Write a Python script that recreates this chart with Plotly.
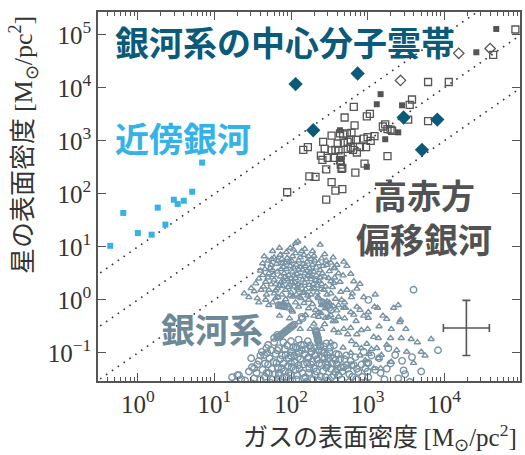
import plotly.graph_objects as go

# ---- data: log10 surface densities [Msun/pc^2] -----------------------------
# nearby galaxies
nearby_gas_log = [-0.36, -0.19, 0.00, 0.18, 0.26, 0.36, 0.47, 0.52, 0.60, 0.71, 0.84]
nearby_star_log = [1.02, 1.64, 1.26, 1.23, 1.74, 1.42, 1.89, 1.81, 1.87, 2.04, 2.59]

# Galactic central molecular zone
cmz_gas_log = [2.06, 2.87, 2.29, 3.47, 3.91, 3.71]
cmz_star_log = [4.07, 4.27, 3.20, 3.44, 3.40, 2.83]

# high-redshift galaxies (open squares)
hiz_open = [
    (2.82, 3.64), (2.70, 3.44), (2.99, 3.46), (3.03, 3.51), (2.83, 3.29), (3.20, 3.27),
    (3.23, 3.31), (3.26, 3.22), (3.32, 3.19), (2.53, 3.10), (2.64, 3.14), (2.68, 3.12),
    (2.73, 3.14), (2.79, 3.15), (2.95, 3.04), (3.00, 3.07), (3.09, 3.09), (3.04, 3.00),
    (2.42, 2.98), (2.85, 3.02), (2.61, 2.95), (2.69, 2.96), (2.74, 2.98), (2.78, 3.02),
    (2.16, 2.83), (2.22, 2.88), (2.44, 2.85), (2.53, 2.82), (2.58, 2.83), (2.62, 2.82),
    (2.74, 2.85), (2.78, 2.87), (2.81, 2.83), (2.86, 2.78), (2.90, 2.88), (2.98, 2.88),
    (2.39, 2.72), (2.48, 2.68), (2.56, 2.68), (2.65, 2.71), (2.64, 2.63), (2.41, 2.64),
    (3.26, 2.71), (2.46, 2.46), (2.66, 2.47), (2.65, 2.55), (2.96, 2.57), (2.24, 2.33),
    (2.32, 2.32), (2.84, 2.40), (2.67, 2.49), (2.53, 2.22), (2.58, 2.06), (2.67, 2.09),
    (2.46, 1.89), (1.95, 2.03), (3.30, 3.21), (3.58, 3.78), (3.55, 3.68), (3.53, 3.40),
    (3.79, 4.11), (4.06, 4.11), (3.79, 3.37), (4.93, 5.10), (4.64, 4.62),
]
# high-redshift galaxies (filled squares)
hiz_filled = [
    (3.17, 3.88), (3.12, 3.69), (2.64, 3.20), (3.23, 3.03), (3.45, 3.67), (3.40, 3.16),
    (4.68, 5.11), (4.42, 4.67), (2.65, 2.66), (2.99, 2.51),
]
# high-redshift galaxies (open diamonds)
hiz_diamond = [(3.43, 4.14), (4.19, 4.65), (4.60, 4.74)]

# Milky Way clouds (triangles)
mw_tri = [
    (2.06, 1.07), (2.09, 1.10), (2.38, 1.04), (1.75, 0.77), (1.86, 0.85), (1.95, 0.79),
    (2.06, 0.88), (2.17, 0.85), (2.23, 0.82), (2.30, 0.83), (1.63, 0.69), (1.74, 0.66),
    (1.81, 0.68), (1.89, 0.69), (1.98, 0.72), (2.10, 0.74), (2.21, 0.72), (2.36, 0.69),
    (2.47, 0.66), (2.56, 0.60), (1.63, 0.47), (1.71, 0.50), (1.82, 0.53), (1.91, 0.50),
    (2.02, 0.53), (2.10, 0.57), (2.21, 0.55), (2.30, 0.53), (2.41, 0.50), (1.54, 0.31),
    (1.67, 0.34), (1.78, 0.38), (1.87, 0.34), (1.95, 0.39), (2.06, 0.41), (2.15, 0.38),
    (2.26, 0.39), (2.36, 0.36), (2.49, 0.41), (1.52, 0.16), (1.61, 0.19), (1.71, 0.19),
    (1.82, 0.22), (1.93, 0.19), (2.04, 0.25), (2.10, 0.19), (2.19, 0.20), (2.30, 0.22),
    (2.43, 0.19), (2.52, 0.12), (1.39, 0.12), (1.45, 0.05), (1.56, 0.03), (1.67, 0.00),
    (1.80, 0.03), (1.93, 0.01), (2.02, 0.06), (2.13, 0.03), (2.23, 0.00), (2.36, 0.03),
    (2.47, -0.03), (1.71, -0.10), (1.84, -0.13), (1.97, -0.10), (2.10, -0.13), (2.23, -0.16),
    (2.32, -0.19), (2.45, -0.16), (2.02, -0.22), (2.19, -0.29), (2.36, -0.32), (2.52, -0.29),
    (1.78, 0.80), (1.83, 0.74), (1.90, 0.62), (1.94, 0.58), (1.99, 0.64), (2.03, 0.61),
    (2.07, 0.66), (2.12, 0.62), (2.16, 0.68), (2.19, 0.64), (2.24, 0.60), (2.28, 0.66),
    (2.33, 0.61), (1.76, 0.56), (1.86, 0.44), (1.92, 0.43), (1.97, 0.47), (2.00, 0.40),
    (2.04, 0.46), (2.08, 0.49), (2.12, 0.45), (2.18, 0.50), (2.22, 0.46), (2.26, 0.44),
    (2.33, 0.46), (2.38, 0.42), (1.70, 0.42), (1.74, 0.29), (1.80, 0.30), (1.85, 0.27),
    (1.89, 0.26), (1.98, 0.29), (2.01, 0.33), (2.09, 0.30), (2.13, 0.27), (2.18, 0.32),
    (2.24, 0.28), (2.29, 0.30), (2.34, 0.27), (2.40, 0.30), (2.45, 0.25), (2.52, 0.35),
    (2.57, 0.42), (2.62, 0.50), (1.66, 0.58), (1.70, 0.74), (1.94, 0.90), (2.02, 0.82),
    (2.12, 0.80), (2.26, 0.77), (2.40, 0.78), (2.46, 0.74), (2.52, 0.70), (2.00, 0.14),
    (2.07, 0.10), (2.16, 0.13), (2.26, 0.10), (2.34, 0.14), (1.88, 0.10), (1.78, 0.12),
    (2.69, 0.72), (2.73, 0.64), (2.57, 0.60), (2.78, 0.49), (2.86, 0.21), (2.73, 0.19),
    (2.56, 0.32), (2.65, 0.15), (2.79, 0.05), (3.40, -0.10), (3.34, -0.15), (3.09, -0.13),
    (2.86, -0.13), (2.71, -0.15), (2.62, -0.10), (2.39, -0.25), (2.49, -0.32), (2.62, -0.32),
    (2.69, -0.15), (2.78, -0.23), (2.90, -0.19), (3.01, -0.23), (3.13, -0.15), (3.25, -0.36),
    (3.42, -0.42), (3.01, -0.34), (2.44, -0.46), (2.56, -0.57), (2.69, -0.55), (2.78, -0.53),
    (2.92, -0.57), (2.79, -0.78), (2.52, -0.80), (3.08, -0.70), (3.14, -0.72), (3.30, -0.72),
    (3.31, -0.55), (3.44, -0.72), (3.57, -0.74), (3.83, -0.74), (2.99, -0.83), (2.92, -0.91),
    (3.05, -0.93), (3.12, -0.91), (3.18, -1.04), (3.14, -1.10), (3.31, -1.17), (3.51, -0.98),
    (3.70, -0.98), (3.60, -1.19), (3.08, -1.29), (3.17, -1.29), (2.97, -1.14), (3.43, -0.38),
    (2.01, -0.19), (2.19, -0.29), (2.36, -0.23), (2.45, -0.34), (2.10, -0.42), (2.30, -0.45),
    (2.60, -0.20), (2.50, -0.05), (2.66, 0.00), (2.58, -0.40), (2.85, -0.40), (2.95, -0.30),
    (2.74, -0.65), (2.62, -0.62), (2.85, -0.85),
    (1.58, 0.40), (1.64, 0.25), (1.68, 0.10), (1.73, 0.60), (1.77, 0.47), (1.80, 0.18),
    (1.83, 0.05), (1.87, 0.58), (1.88, 0.77), (1.91, 0.35), (1.93, 0.70), (1.96, 0.24),
    (1.99, 0.08), (2.01, 0.73), (2.03, 0.95), (2.05, 0.33), (2.08, 0.22), (2.11, 0.06),
    (2.14, 0.92), (2.15, 0.57), (2.17, 0.15), (2.20, 0.39), (2.22, 0.08), (2.25, 0.52),
    (2.27, 0.20), (2.31, 0.74), (2.32, 0.37), (2.35, 0.06), (2.38, 0.56), (2.39, 0.20),
    (2.42, 0.64), (2.44, 0.44), (2.47, 0.10), (2.50, 0.54), (2.54, 0.24), (2.58, 0.02),
    (2.60, 0.66), (2.64, 0.34), (2.68, 0.46), (1.60, 0.55), (1.65, 0.82), (1.76, 0.92),
    (1.85, 0.98), (1.99, 0.98), (2.18, 0.96), (2.28, 0.92), (2.44, 0.86), (2.55, 0.80),
    (1.48, 0.22), (1.58, -0.05), (1.76, -0.05), (1.90, -0.06), (2.06, -0.05), (2.17, -0.06),
    (2.28, -0.08), (2.40, -0.10), (2.55, -0.12), (2.70, -0.05), (2.80, 0.12), (2.90, 0.30),
    (2.82, 0.35), (2.95, 0.05), (3.10, 0.10), (3.20, -0.30), (3.15, -0.50), (3.00, -0.55),
    (2.86, -0.65), (3.25, -0.85), (3.38, -0.95), (3.50, -0.55), (3.65, -0.80), (3.75, -1.05),
    (2.68, -0.90), (2.78, -1.00), (2.90, -1.05), (3.02, -1.02), (2.55, -0.40), (2.40, -0.55),
    (2.25, -0.55), (2.12, -0.55), (1.98, -0.35), (1.85, -0.30), (2.30, -0.30), (2.70, -0.35),
    (2.82, -0.28),
]

# Milky Way clouds (circles)
mw_circ = [
    (1.32, -1.42), (1.48, -1.10), (1.49, -1.27), (1.68, -0.91), (1.78, -0.72), (1.82, -0.66),
    (2.06, -0.89), (2.10, -1.00), (2.23, -1.08), (2.30, -0.91), (2.43, -1.00), (2.58, -1.14),
    (2.69, -1.27), (2.79, -1.23), (2.45, -1.19), (2.01, -1.27), (1.84, -1.38), (1.68, -1.38),
    (3.01, 0.00), (3.60, 0.19), (3.27, -0.91), (3.36, -1.04), (3.47, -1.33), (3.17, -1.38),
    (3.92, -0.95), (2.99, -1.19), (2.84, -1.08), (3.58, -1.08), (3.01, -1.19), (2.97, -1.29),
    (2.88, -1.36), (2.82, -1.23), (2.73, -1.23), (2.65, -1.27), (2.48, -1.23), (2.58, -1.36),
    (2.62, -1.42), (2.53, -1.46), (3.49, -1.40), (3.01, -1.46), (1.52, -1.29), (1.65, -1.04),
    (1.78, -0.80), (1.82, -0.70), (1.84, -0.91), (1.93, -1.04), (2.01, -0.98), (2.08, -0.91),
    (2.17, -0.85), (2.26, -0.91), (2.32, -1.04), (2.40, -0.95), (2.47, -1.04), (1.81, -1.19),
    (1.88, -1.29), (2.00, -1.19), (2.10, -1.23), (2.21, -1.19), (2.30, -1.29), (2.40, -1.23),
    (1.71, -1.38), (1.84, -1.42), (1.97, -1.38), (2.08, -1.42), (2.19, -1.46), (2.32, -1.42),
    (2.45, -1.46), (1.23, -1.46), (1.30, -1.42), (1.60, -1.50), (1.66, -1.20), (1.72, -1.10),
    (1.75, -1.30), (1.76, -1.50), (1.80, -1.02), (1.86, -1.12), (1.89, -1.48), (1.92, -1.34),
    (1.95, -0.86), (1.97, -1.10), (2.02, -1.52), (2.04, -1.05), (2.06, -1.32), (2.12, -1.12),
    (2.14, -0.95), (2.15, -1.38), (2.18, -1.02), (2.20, -1.55), (2.24, -1.30), (2.27, -0.98),
    (2.28, -1.16), (2.34, -1.12), (2.36, -1.52), (2.38, -0.88), (2.42, -1.34), (2.44, -1.10),
    (2.50, -0.98), (2.52, -1.30), (2.55, -1.10), (2.60, -1.22), (2.62, -1.03), (2.66, -1.50),
    (2.70, -1.12), (1.55, -1.38), (1.58, -1.15), (1.62, -0.98), (1.70, -0.85), (1.74, -0.95),
    (1.90, -0.80), (2.00, -0.78), (2.10, -0.75), (2.22, -0.78), (2.35, -0.74), (2.46, -0.82),
    (2.56, -0.86), (2.76, -1.40), (2.85, -1.50), (2.92, -1.22), (3.10, -1.32), (3.22, -1.50),
    (3.40, -1.48), (3.30, -1.20), (2.95, -0.98), (3.05, -1.05),
    (1.40, -1.52), (1.45, -1.35), (1.52, -1.48), (1.56, -1.22), (1.60, -1.05), (1.63, -1.32),
    (1.66, -1.45), (1.69, -1.00), (1.70, -1.22), (1.73, -1.56), (1.77, -1.17), (1.79, -1.40),
    (1.82, -0.95), (1.83, -1.28), (1.86, -1.55), (1.88, -1.05), (1.90, -1.20), (1.92, -0.93),
    (1.94, -1.45), (1.96, -1.25), (1.99, -1.05), (2.00, -1.42), (2.03, -0.90), (2.05, -1.18),
    (2.07, -1.50), (2.09, -1.08), (2.11, -1.30), (2.13, -0.85), (2.16, -1.22), (2.17, -1.48),
    (2.19, -0.93), (2.22, -1.10), (2.23, -1.38), (2.25, -0.86), (2.26, -1.22), (2.29, -1.50),
    (2.31, -1.05), (2.33, -1.35), (2.36, -0.95), (2.37, -1.20), (2.39, -1.45), (2.41, -1.08),
    (2.43, -0.88), (2.46, -1.28), (2.48, -1.52), (2.49, -1.10), (2.51, -0.90), (2.54, -1.20),
    (2.56, -1.42), (2.59, -1.02), (2.61, -1.30), (2.64, -1.12), (2.67, -1.35), (2.72, -1.05),
    (2.74, -1.30), (2.78, -1.15), (2.80, -1.45), (2.86, -1.30), (2.93, -1.45), (3.00, -1.35),
    (3.15, -1.10), (3.25, -1.30), (3.45, -1.15), (3.70, -1.35), (3.55, -1.55), (2.98, -1.55),
    (2.76, -1.55), (1.28, -1.55), (1.35, -1.50), (1.50, -1.58),
    # dense elongated cloud complexes
    (1.84, -0.70), (1.855, -0.68), (1.87, -0.66), (1.885, -0.645), (1.90, -0.63),
    (1.915, -0.61), (1.93, -0.59), (1.945, -0.575), (1.96, -0.56), (1.975, -0.54),
    (1.99, -0.52), (2.005, -0.505), (2.02, -0.49), (2.04, -0.47),
    (2.32, -0.57), (2.325, -0.60), (2.33, -0.62), (2.335, -0.65), (2.34, -0.67),
    (2.345, -0.70), (2.35, -0.72), (2.35, -0.75), (2.355, -0.77), (2.36, -0.80),
    (1.84, -0.10), (1.86, -0.105), (1.88, -0.11), (1.90, -0.115), (1.92, -0.12), (1.95, -0.13),
    (2.40, -0.04), (2.42, -0.06), (2.44, -0.08), (2.46, -0.10), (2.48, -0.12), (2.50, -0.15),
    (2.52, -0.19), (2.14, -0.32), (2.15, -0.35),
]

# representative uncertainty (dex) and where it is drawn
err_center_log = (4.29, -0.53)
err_half_dex = (0.30, 0.52)

# constant stellar-to-gas ratios drawn as guide lines
guide_ratios = [10.0, 1.0, 0.1]

x_range_log = [-0.52, 4.99]
y_range_log = [-1.53, 5.43]

# ---- styles -----------------------------------------------------------------
C_NEAR = "#35b2e6"
C_CMZ = "#0b5a7a"
C_HIZ = "#555555"
C_MW = "#7893a4"
C_AXIS = "#555555"


def unlog(v):
    return [10 ** a for a in v]


fig = go.Figure()

# guide lines
gx = [10 ** (x_range_log[0] - 0.2), 10 ** (x_range_log[1] + 0.2)]
for r in guide_ratios:
    fig.add_trace(go.Scatter(
        x=gx, y=[r * v for v in gx], mode="lines",
        line=dict(color="#333333", width=1.6, dash="1.6px,5.5px"),
        hoverinfo="skip", showlegend=False))

# Milky Way
fig.add_trace(go.Scatter(
    x=unlog([p[0] for p in mw_circ]), y=unlog([p[1] for p in mw_circ]), mode="markers",
    marker=dict(symbol="circle-open", size=6.5, color=C_MW, line=dict(width=1.4)),
    showlegend=False))
fig.add_trace(go.Scatter(
    x=unlog([p[0] for p in mw_tri]), y=unlog([p[1] for p in mw_tri]), mode="markers",
    marker=dict(symbol="triangle-up-open", size=5.5, color=C_MW, line=dict(width=1.4)),
    showlegend=False))

# nearby galaxies
fig.add_trace(go.Scatter(
    x=unlog(nearby_gas_log), y=unlog(nearby_star_log), mode="markers",
    marker=dict(symbol="square", size=6, color=C_NEAR), showlegend=False))

# high-z galaxies
fig.add_trace(go.Scatter(
    x=unlog([p[0] for p in hiz_open]), y=unlog([p[1] for p in hiz_open]), mode="markers",
    marker=dict(symbol="square-open", size=7, color=C_HIZ, line=dict(width=1.3)),
    showlegend=False))
fig.add_trace(go.Scatter(
    x=unlog([p[0] for p in hiz_filled]), y=unlog([p[1] for p in hiz_filled]), mode="markers",
    marker=dict(symbol="square", size=6, color=C_HIZ), showlegend=False))
fig.add_trace(go.Scatter(
    x=unlog([p[0] for p in hiz_diamond]), y=unlog([p[1] for p in hiz_diamond]), mode="markers",
    marker=dict(symbol="diamond-open", size=8, color=C_HIZ, line=dict(width=1.3)),
    showlegend=False))

# Galactic centre
fig.add_trace(go.Scatter(
    x=unlog(cmz_gas_log), y=unlog(cmz_star_log), mode="markers",
    marker=dict(symbol="diamond", size=11, color=C_CMZ), showlegend=False))

# typical error bar
cx, cy = 10 ** err_center_log[0], 10 ** err_center_log[1]
fx, fy = 10 ** err_half_dex[0], 10 ** err_half_dex[1]
fig.add_trace(go.Scatter(
    x=[cx], y=[cy], mode="markers", marker=dict(size=1, color=C_AXIS),
    error_x=dict(type="data", symmetric=False, array=[cx * (fx - 1)],
                 arrayminus=[cx * (1 - 1 / fx)], color=C_AXIS, thickness=1.6, width=4),
    error_y=dict(type="data", symmetric=False, array=[cy * (fy - 1)],
                 arrayminus=[cy * (1 - 1 / fy)], color=C_AXIS, thickness=1.6, width=4),
    showlegend=False))

# ---- axes -------------------------------------------------------------------
TICK_FONT = dict(family="Liberation Serif, DejaVu Serif, serif", size=25, color="#333333")


def pow_label(k):
    return "10<sup>%s</sup>" % (str(k) if k >= 0 else "\u2212" + str(-k))


x_major = list(range(0, 5))
y_major = list(range(-1, 6))
x_minor = [m * 10 ** k for k in range(-1, 5) for m in range(2, 10)]

axis_common = dict(type="log", showgrid=False, zeroline=False, showline=True,
                   linecolor=C_AXIS, linewidth=1.5, mirror="allticks",
                   ticks="inside", ticklen=8, tickwidth=1.3, tickcolor=C_AXIS,
                   tickfont=TICK_FONT, tickmode="array")

fig.update_xaxes(range=x_range_log, tickvals=[10 ** k for k in x_major],
                 ticktext=[pow_label(k) for k in x_major],
                 minor=dict(tickvals=x_minor, ticks="inside", ticklen=4,
                            tickwidth=1, tickcolor=C_AXIS),
                 **axis_common)
fig.update_yaxes(range=y_range_log, tickvals=[10 ** k for k in y_major],
                 ticktext=[pow_label(k) for k in y_major], **axis_common)

# ---- labels -----------------------------------------------------------------
JP_BOLD = dict(family="Noto Sans CJK JP", size=34, weight="bold")
JP = "Noto Sans CJK JP"
UNIT = ("<span style='font-family:Liberation Serif'>[M<sub>\u2299</sub>/pc<sup>2</sup>]</span>")

labels = [
    ("銀河系の中心分子雲帯", 0.035, 0.921, "left", C_CMZ),
    ("近傍銀河", 0.035, 0.659, "left", C_NEAR),
    ("高赤方<br>偏移銀河", 0.773, 0.447, "center", "#525252"),
    ("銀河系", 0.144, 0.141, "left", "#6d8896"),
]
for text, x, y, xa, col in labels:
    fig.add_annotation(text=text, xref="paper", yref="paper", x=x, y=y,
                       xanchor=xa, yanchor="middle", showarrow=False,
                       font=dict(color=col, **JP_BOLD))

fig.add_annotation(text="ガスの表面密度 " + UNIT, xref="paper", yref="paper",
                   x=0.998, y=-0.15, xanchor="right", yanchor="middle",
                   showarrow=False, font=dict(family=JP, size=25, color="#333333"))
fig.add_annotation(text="星の表面密度 " + UNIT, xref="paper", yref="paper",
                   x=-0.18, y=0.64, xanchor="center", yanchor="middle",
                   textangle=-90, showarrow=False,
                   font=dict(family=JP, size=26, color="#333333"))

fig.update_layout(width=525, height=455, margin=dict(l=98, r=3, t=12, b=74),
                  paper_bgcolor="white", plot_bgcolor="white")

fig.write_html("out.html")
